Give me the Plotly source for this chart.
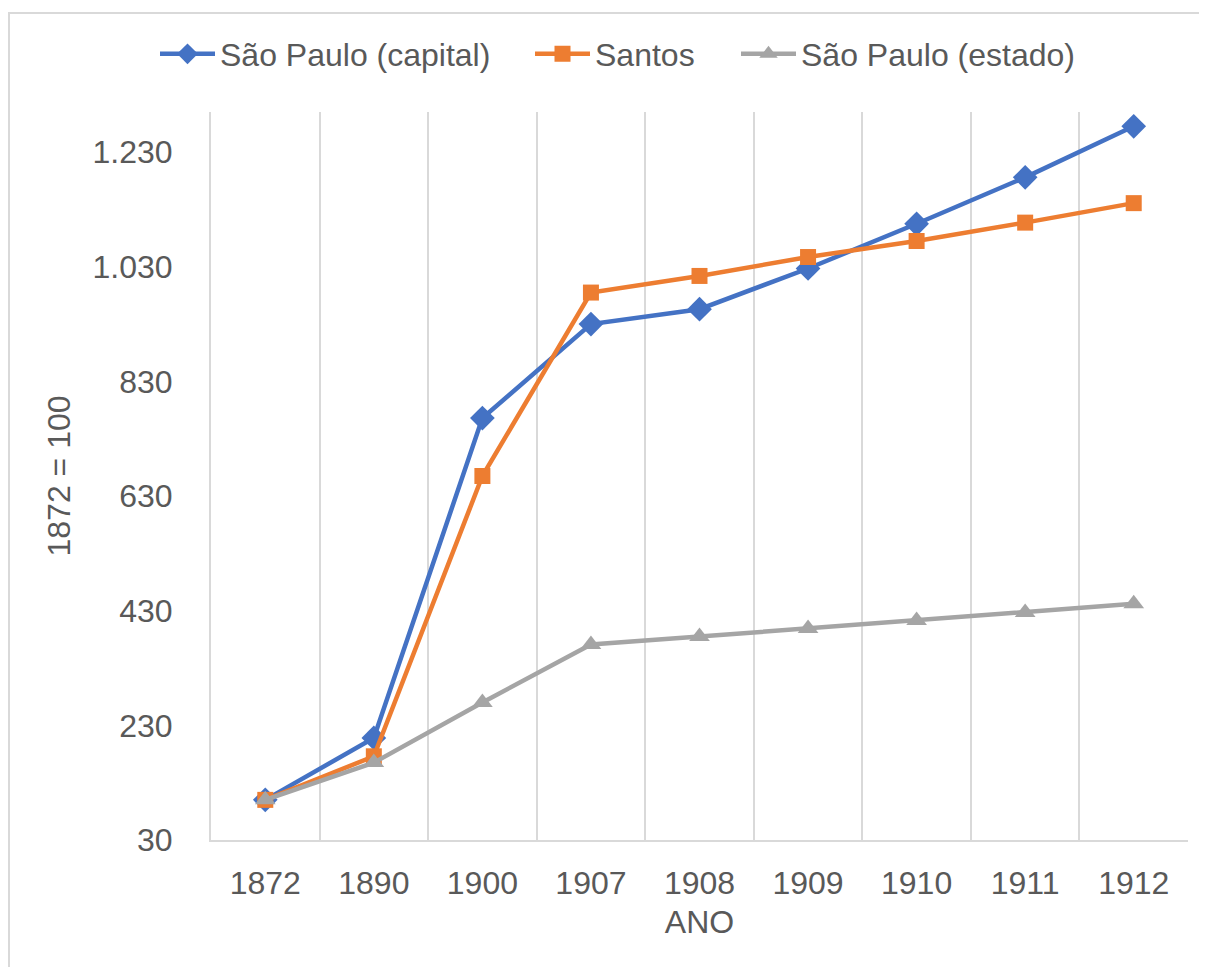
import plotly.graph_objects as go

anos = ["1872", "1890", "1900", "1907", "1908", "1909", "1910", "1911", "1912"]
sp_capital = [100, 208, 766, 930, 956, 1027, 1105, 1186, 1275]
santos = [100, 176, 665, 985, 1014, 1047, 1075, 1107, 1141]
sp_estado = [100, 165, 270, 371, 385, 399, 413, 427, 442]
y_ticks = [30, 230, 430, 630, 830, 1030, 1230]

TXT = "#595959"
GRID = "#D9D9D9"
FONT = "Liberation Sans, Arial, sans-serif"
FS = 32

fig = go.Figure()
fig.add_trace(go.Scatter(x=anos, y=sp_capital, name="São Paulo (capital)", mode="lines+markers",
                         line=dict(color="#4472C4", width=4.5), legend="legend", showlegend=True,
                         marker=dict(symbol="diamond", size=19, color="#4472C4")))
fig.add_trace(go.Scatter(x=anos, y=santos, name="Santos", mode="lines+markers",
                         line=dict(color="#ED7D31", width=4.5), legend="legend2", showlegend=True,
                         marker=dict(symbol="square", size=16, color="#ED7D31")))
fig.add_trace(go.Scatter(x=anos, y=sp_estado, name="São Paulo (estado)", mode="lines+markers",
                         line=dict(color="#A5A5A5", width=4.5), legend="legend3", showlegend=True,
                         marker=dict(symbol="triangle-up", size=18, color="#A5A5A5")))

def leg(xpx):
    return dict(orientation="h", xref="container", yref="container",
                x=xpx / 1207, xanchor="left", y=1 - 46 / 967, yanchor="middle",
                font=dict(size=FS, color=TXT, family=FONT), itemwidth=55,
                bgcolor="rgba(0,0,0,0)", visible=True)

fig.update_layout(
    width=1207, height=967,
    paper_bgcolor="white", plot_bgcolor="white",
    margin=dict(l=203, r=27, t=104, b=135, autoexpand=False),
    separators=",.",
    showlegend=True,
    font=dict(family=FONT, color=TXT, size=FS),
    legend=leg(147), legend2=leg(522), legend3=leg(728),
    xaxis=dict(type="category", range=[-0.5, 8.5], tickson="boundaries", automargin=False,
               showgrid=True, gridcolor=GRID, gridwidth=2,
               showline=True, linecolor=GRID, linewidth=2,
               ticks="", ticklabelstandoff=14,
               tickfont=dict(size=FS, color=TXT),
               title=dict(text="ANO", font=dict(size=FS, color=TXT), standoff=10)),
    yaxis=dict(range=[30, 1300], tickvals=y_ticks, tickformat=",d", automargin=False,
               showgrid=False, zeroline=False,
               showline=True, linecolor=GRID, linewidth=2,
               ticks="", ticklabelstandoff=30,
               tickfont=dict(size=FS, color=TXT),
               title=dict(text="1872 = 100", font=dict(size=FS, color=TXT), standoff=12)),
    shapes=[dict(type="rect", xref="paper", yref="paper",
                 x0=-202 / 977, x1=1.05, y0=-0.3, y1=1 + 99 / 728,
                 line=dict(color=GRID, width=2), fillcolor="rgba(0,0,0,0)", layer="below")],
)

fig.write_html("out.html")
